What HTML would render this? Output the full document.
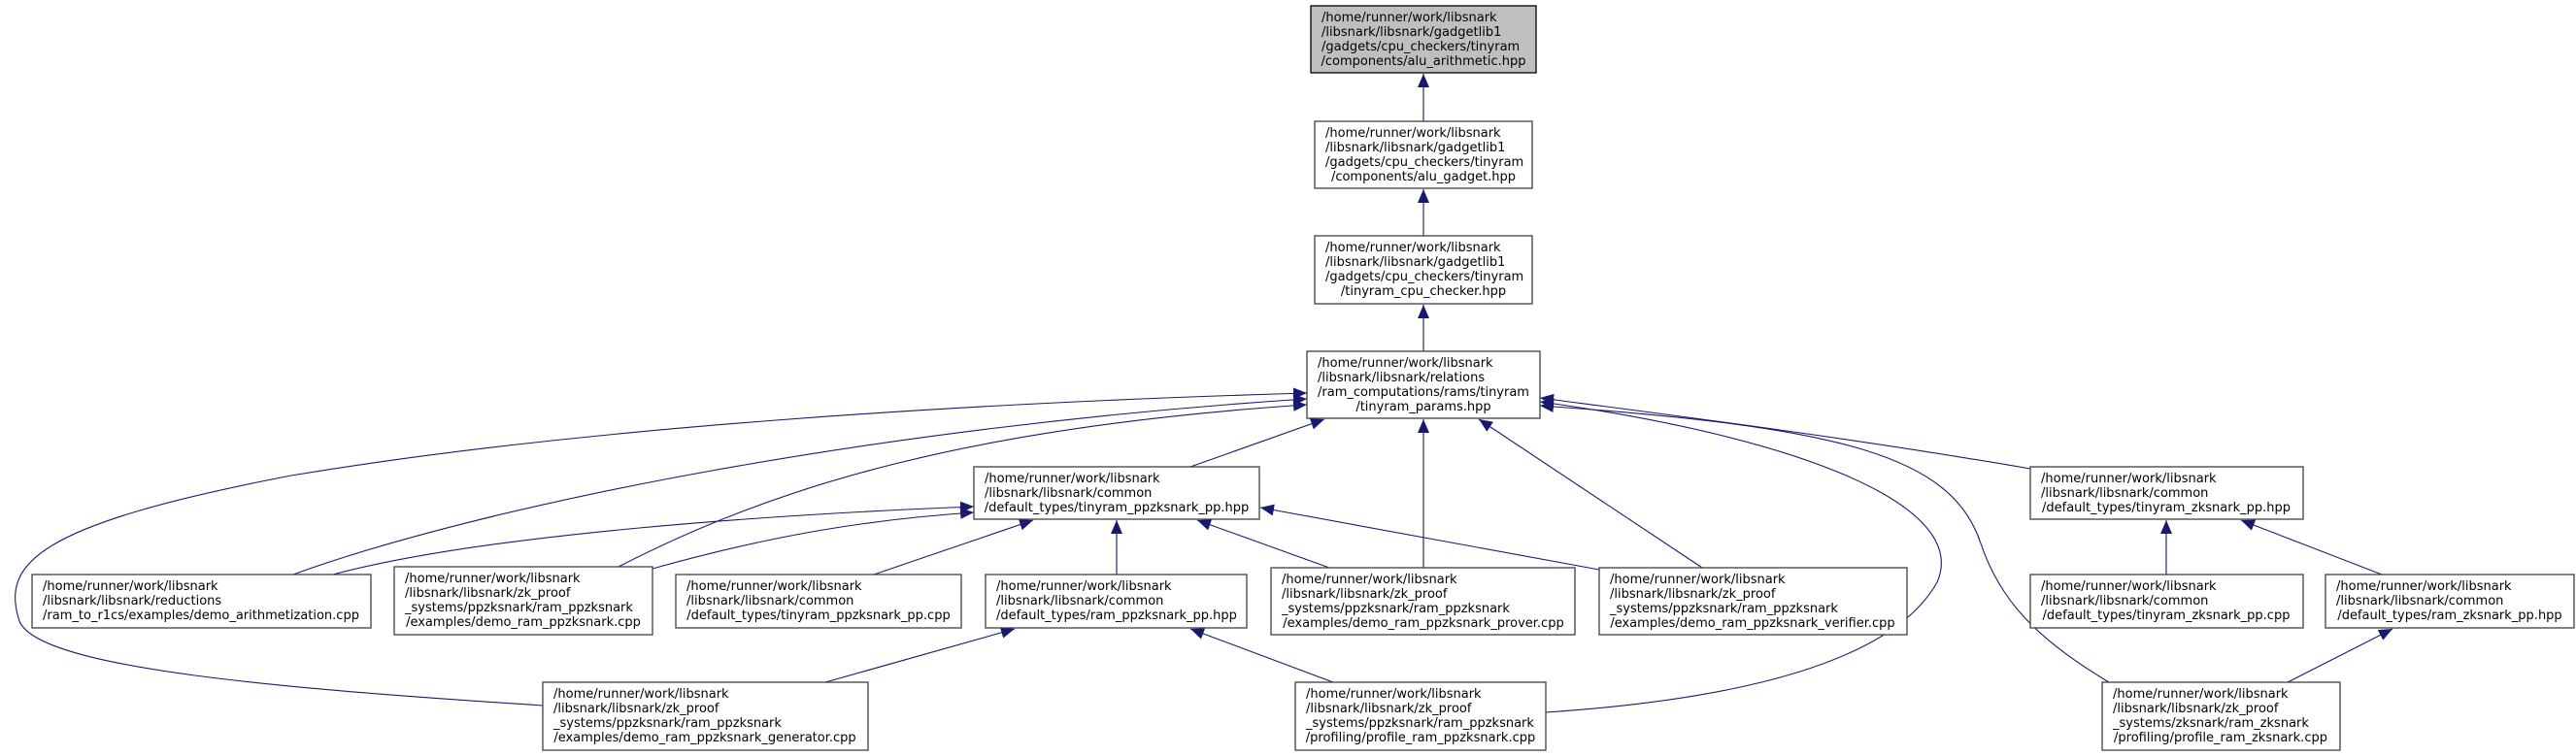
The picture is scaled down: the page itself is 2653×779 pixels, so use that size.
<!DOCTYPE html>
<html><head><meta charset="utf-8"><style>
html,body{margin:0;padding:0;background:#fff;}
svg{display:block;}
text{font-family:"DejaVu Sans","Liberation Sans",sans-serif;font-size:13px;fill:#000;}
.n{fill:#fff;stroke:#404040;stroke-width:1.3;}
.e{fill:none;stroke:#191970;stroke-width:1.1;}
</style></head><body>
<svg width="2653" height="779" viewBox="0 0 2653 779" xmlns="http://www.w3.org/2000/svg">
<defs>
<marker id="a" markerUnits="userSpaceOnUse" markerWidth="16" markerHeight="12" refX="14" refY="6" orient="auto">
<path d="M0,0 L14,6 L0,12 z" fill="#191970"/>
</marker>
</defs>

<g class="e" marker-end="url(#a)">
<path d="M1466,125 L1466,76"/>
<path d="M1466,243 L1466,195"/>
<path d="M1466,362 L1466,314"/>
<path d="M1226,481 L1364,432"/>
<path d="M1466,585 L1466,432"/>
<path d="M1753,585 L1523,432"/>
<path d="M2091,483 C1900,450 1700,425 1586,410"/>
<path d="M559,727 C300,710 40,690 20,640 C0,580 40,540 300,490 C600,440 1000,415 1346,405"/>
<path d="M302,592 C500,520 900,440 1346,411"/>
<path d="M637,584 C800,500 1000,440 1346,417"/>
<path d="M1592,734 C1800,720 1950,680 1995,600 C2030,520 1850,450 1586,414"/>
<path d="M2172,703 C2100,660 2060,620 2040,560 C2010,470 1900,440 1586,418"/>
<path d="M343,592 C500,550 800,530 1003,522"/>
<path d="M672,586 C800,550 900,535 1003,528"/>
<path d="M900,592 L1064,536"/>
<path d="M1150,592 L1150,536"/>
<path d="M1369,585 L1233,536"/>
<path d="M1647,587 L1298,523"/>
<path d="M850,703 L1045,648"/>
<path d="M1373,703 L1226,648"/>
<path d="M2231,592 L2231,536"/>
<path d="M2453,592 L2308,536"/>
<path d="M2356,703 L2464,648"/>
</g>

<rect x="1350" y="6" width="232" height="69" style="fill:#bfbfbf;stroke:#000;stroke-width:1.3"/>
<text x="1361" y="22">/home/runner/work/libsnark</text>
<text x="1361" y="37">/libsnark/libsnark/gadgetlib1</text>
<text x="1361" y="52">/gadgets/cpu_checkers/tinyram</text>
<text x="1466" y="67" text-anchor="middle">/components/alu_arithmetic.hpp</text>

<rect class="n" x="1354" y="125" width="224" height="69"/>
<text x="1365" y="141">/home/runner/work/libsnark</text>
<text x="1365" y="156">/libsnark/libsnark/gadgetlib1</text>
<text x="1365" y="171">/gadgets/cpu_checkers/tinyram</text>
<text x="1466" y="186" text-anchor="middle">/components/alu_gadget.hpp</text>

<rect class="n" x="1354" y="243" width="224" height="70"/>
<text x="1365" y="259">/home/runner/work/libsnark</text>
<text x="1365" y="274">/libsnark/libsnark/gadgetlib1</text>
<text x="1365" y="289">/gadgets/cpu_checkers/tinyram</text>
<text x="1466" y="304" text-anchor="middle">/tinyram_cpu_checker.hpp</text>

<rect class="n" x="1346" y="362" width="240" height="69"/>
<text x="1357" y="378">/home/runner/work/libsnark</text>
<text x="1357" y="393">/libsnark/libsnark/relations</text>
<text x="1357" y="408">/ram_computations/rams/tinyram</text>
<text x="1466" y="423" text-anchor="middle">/tinyram_params.hpp</text>

<rect class="n" x="1003" y="481" width="294" height="54"/>
<text x="1014" y="497">/home/runner/work/libsnark</text>
<text x="1014" y="512">/libsnark/libsnark/common</text>
<text x="1150" y="527" text-anchor="middle">/default_types/tinyram_ppzksnark_pp.hpp</text>

<rect class="n" x="2091" y="481" width="281" height="54"/>
<text x="2102" y="497">/home/runner/work/libsnark</text>
<text x="2102" y="512">/libsnark/libsnark/common</text>
<text x="2231" y="527" text-anchor="middle">/default_types/tinyram_zksnark_pp.hpp</text>

<rect class="n" x="33" y="592" width="349" height="55"/>
<text x="44" y="608">/home/runner/work/libsnark</text>
<text x="44" y="623">/libsnark/libsnark/reductions</text>
<text x="207" y="638" text-anchor="middle">/ram_to_r1cs/examples/demo_arithmetization.cpp</text>

<rect class="n" x="406" y="584" width="266" height="70"/>
<text x="417" y="600">/home/runner/work/libsnark</text>
<text x="417" y="615">/libsnark/libsnark/zk_proof</text>
<text x="417" y="630">_systems/ppzksnark/ram_ppzksnark</text>
<text x="539" y="645" text-anchor="middle">/examples/demo_ram_ppzksnark.cpp</text>

<rect class="n" x="696" y="592" width="294" height="55"/>
<text x="707" y="608">/home/runner/work/libsnark</text>
<text x="707" y="623">/libsnark/libsnark/common</text>
<text x="843" y="638" text-anchor="middle">/default_types/tinyram_ppzksnark_pp.cpp</text>

<rect class="n" x="1015" y="592" width="269" height="55"/>
<text x="1026" y="608">/home/runner/work/libsnark</text>
<text x="1026" y="623">/libsnark/libsnark/common</text>
<text x="1150" y="638" text-anchor="middle">/default_types/ram_ppzksnark_pp.hpp</text>

<rect class="n" x="1309" y="585" width="313" height="69"/>
<text x="1320" y="601">/home/runner/work/libsnark</text>
<text x="1320" y="616">/libsnark/libsnark/zk_proof</text>
<text x="1320" y="631">_systems/ppzksnark/ram_ppzksnark</text>
<text x="1466" y="646" text-anchor="middle">/examples/demo_ram_ppzksnark_prover.cpp</text>

<rect class="n" x="1647" y="585" width="317" height="69"/>
<text x="1658" y="601">/home/runner/work/libsnark</text>
<text x="1658" y="616">/libsnark/libsnark/zk_proof</text>
<text x="1658" y="631">_systems/ppzksnark/ram_ppzksnark</text>
<text x="1805" y="646" text-anchor="middle">/examples/demo_ram_ppzksnark_verifier.cpp</text>

<rect class="n" x="2091" y="592" width="281" height="55"/>
<text x="2102" y="608">/home/runner/work/libsnark</text>
<text x="2102" y="623">/libsnark/libsnark/common</text>
<text x="2231" y="638" text-anchor="middle">/default_types/tinyram_zksnark_pp.cpp</text>

<rect class="n" x="2395" y="592" width="256" height="55"/>
<text x="2406" y="608">/home/runner/work/libsnark</text>
<text x="2406" y="623">/libsnark/libsnark/common</text>
<text x="2523" y="638" text-anchor="middle">/default_types/ram_zksnark_pp.hpp</text>

<rect class="n" x="559" y="703" width="335" height="70"/>
<text x="570" y="719">/home/runner/work/libsnark</text>
<text x="570" y="734">/libsnark/libsnark/zk_proof</text>
<text x="570" y="749">_systems/ppzksnark/ram_ppzksnark</text>
<text x="726" y="764" text-anchor="middle">/examples/demo_ram_ppzksnark_generator.cpp</text>

<rect class="n" x="1334" y="703" width="258" height="70"/>
<text x="1345" y="719">/home/runner/work/libsnark</text>
<text x="1345" y="734">/libsnark/libsnark/zk_proof</text>
<text x="1345" y="749">_systems/ppzksnark/ram_ppzksnark</text>
<text x="1463" y="764" text-anchor="middle">/profiling/profile_ram_ppzksnark.cpp</text>

<rect class="n" x="2165" y="703" width="245" height="70"/>
<text x="2176" y="719">/home/runner/work/libsnark</text>
<text x="2176" y="734">/libsnark/libsnark/zk_proof</text>
<text x="2176" y="749">_systems/zksnark/ram_zksnark</text>
<text x="2287" y="764" text-anchor="middle">/profiling/profile_ram_zksnark.cpp</text>
</svg>
</body></html>
